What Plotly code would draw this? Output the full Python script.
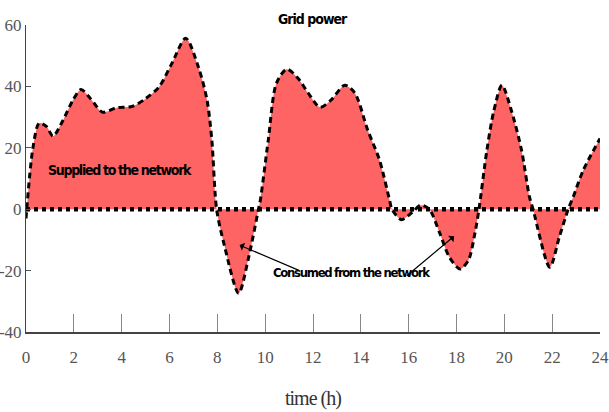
import plotly.graph_objects as go

# time (h) and grid power values
hours = [0.0, 0.29, 0.55, 0.85, 1.13, 1.55, 1.96, 2.3, 2.7, 3.2, 3.77, 4.45, 5.0, 5.56, 6.1, 6.68,
         7.22, 7.57, 7.77, 7.97, 8.3, 8.89, 9.3, 9.72, 9.8, 10.13, 10.47, 10.9, 11.38, 11.8,
         12.3, 12.75, 13.33, 13.75, 14.29, 14.78, 15.2, 15.3, 15.7, 16.15, 16.5, 16.86, 17.3,
         17.7, 18.15, 18.5, 18.77, 18.94, 19.27, 19.56, 19.9, 20.3, 20.72, 21.05, 21.2, 21.9,
         22.3, 22.67, 22.88, 23.3, 24.0]
power = [-3, 20, 28, 27, 23.8, 29, 35.5, 39, 36, 31.6, 33, 33.5, 36, 39.8, 47.5, 55.7,
         46, 35.5, 22.5, 0, -12, -27.4, -16, 0, 3, 22.5, 41, 45.6, 42.6, 37.8,
         33.2, 35.5, 40.4, 37.8, 25.7, 16, 3, 0, -3.4, -1, 1.3, 0, -7.8,
         -15.6, -19.5, -16.6, -7.8, 0, 19.2, 32, 40.4, 32, 19.2, 4, 0, -18.9,
         -9, 0, 4, 12.7, 23]
zero_x = [0, 24]
zero_y = [0, 0]
x_ticks = list(range(0, 25, 2))
y_ticks = [-40, -20, 0, 20, 40, 60]
y_tick_labels = ["-40", "-20", "0", "20", "40", "60"]

fig = go.Figure()
fig.add_trace(go.Scatter(x=hours, y=power, mode="lines", fill="tozeroy",
                         fillcolor="#ff6464",
                         line=dict(color="black", width=3, dash="6px,4px", shape="spline", smoothing=0.8),
                         showlegend=False, hoverinfo="skip", cliponaxis=False))
fig.add_trace(go.Scatter(x=zero_x, y=zero_y, mode="lines",
                         line=dict(color="black", width=4.5, dash="4px,4px"),
                         showlegend=False, hoverinfo="skip"))

narrow = "Liberation Sans Narrow, DejaVu Sans Condensed, Liberation Sans, Arial"
serif = "Liberation Serif, DejaVu Serif, serif"


def tight(s, sp):
    return f"<span style='letter-spacing:{sp}px'><b>{s}</b></span>"


fig.add_annotation(x=3.95, y=12.7, text=tight("Supplied to the network", -1.3), showarrow=False,
                   font=dict(family=narrow, size=14, color="black"))
fig.add_annotation(x=13.62, y=-20.5, text=tight("Consumed from the network", -1.3), showarrow=False,
                   font=dict(family=narrow, size=13, color="black"))
fig.add_annotation(x=8.93, y=-11.7, ax=11.5, ay=-20.2, axref="x", ayref="y", text="",
                   showarrow=True, arrowhead=1, arrowsize=1.2, arrowwidth=1.2, arrowcolor="black")
fig.add_annotation(x=17.9, y=-8.8, ax=15.86, ay=-22.1, axref="x", ayref="y", text="",
                   showarrow=True, arrowhead=1, arrowsize=1.2, arrowwidth=1.2, arrowcolor="black")
fig.add_annotation(x=0.5, y=1, xref="paper", yref="paper", yanchor="middle", yshift=6,
                   text=tight("Grid power", -1), showarrow=False,
                   font=dict(family=narrow, size=14, color="black"))
fig.add_annotation(x=0.5, y=0, xref="paper", yref="paper", yanchor="middle", yshift=-66,
                   text="<span style='letter-spacing:-1px'>time (h)</span>", showarrow=False,
                   font=dict(family=serif, size=20, color="#333"))

fig.update_layout(
    width=609, height=412,
    margin=dict(l=26, r=9, t=25, b=80),
    paper_bgcolor="white", plot_bgcolor="white",
    xaxis=dict(range=[0, 24], tickvals=x_ticks, ticks="inside", ticklen=18, tickcolor="#888",
               showgrid=False, zeroline=False, showline=True, linecolor="#444", linewidth=1.5,
               tickfont=dict(family=serif, size=17, color="#555"), automargin=False,
               ticklabeloverflow="allow", ticklabelstandoff=9),
    yaxis=dict(range=[-40, 60], tickvals=y_ticks, ticktext=y_tick_labels, ticks="inside", ticklen=5,
               tickcolor="#555", showgrid=False, zeroline=False, showline=True, linecolor="#444",
               linewidth=1, tickfont=dict(family=serif, size=17, color="#555"), automargin=False,
               ticklabelstandoff=0),
)

fig.write_html("out.html", config={"displayModeBar": False},
               post_script="document.body.style.margin='0';")
